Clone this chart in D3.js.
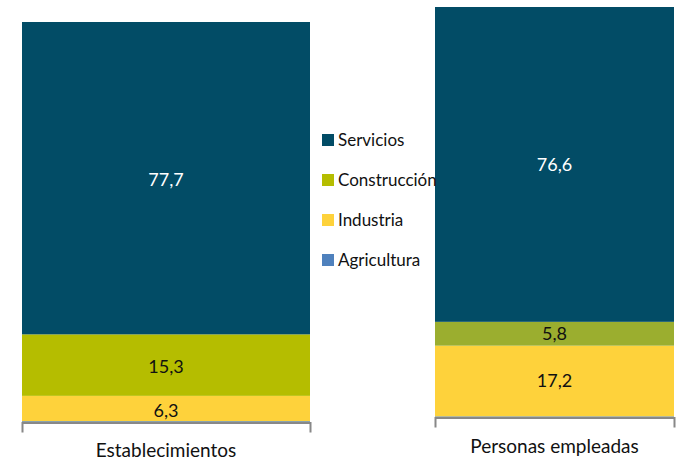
<!DOCTYPE html>
<html><head><meta charset="utf-8">
<script src="https://cdn.jsdelivr.net/npm/d3@7"></script>
<style>body{margin:0;background:#fff}svg{display:block;font-family:Lato,"Open Sans",sans-serif}</style>
</head><body><svg id="c" width="680" height="462"></svg>
<script>
const categories = ["Establecimientos", "Personas empleadas"];
const seriesNames = ["Servicios", "Construcción", "Industria", "Agricultura"];
const servicios = [77.7, 76.6];
const construccion = [15.3, 5.8];
const industria = [6.3, 17.2];
const agricultura = [0.7, 0.4];

const colors = {Servicios:"#024c66", "Construcción":"#b5bd00", Industria:"#fed23b", Agricultura:"#4f81bd"};
const construccionRight = "#9bae2f";

const svg = d3.select("#c");
const panels = [
  {x0:22, x1:310, top:22, base:424, axisY:422.5, labOff:2, pad:21},
  {x0:435, x1:674, top:7, base:418, axisY:417.5, labOff:0, pad:22}
];
const valuesBy = {Servicios:servicios, "Construcción":construccion, Industria:industria, Agricultura:agricultura};
const stackOrder = ["Agricultura","Industria","Construcción","Servicios"];

categories.forEach((cat,i)=>{
  const p = panels[i];
  const row = {}; stackOrder.forEach(s=>row[s]=valuesBy[s][i]);
  const stacked = d3.stack().keys(stackOrder)([row]);
  const y = d3.scaleLinear().domain([0,100]).range([p.base,p.top]);
  const x = d3.scaleBand().domain([cat]).range([p.x0,p.x1]).padding(0);
  const g = svg.append("g");
  stacked.forEach(layer=>{
    const d = layer[0];
    const col = (layer.key==="Construcción" && i===1) ? construccionRight : colors[layer.key];
    g.append("rect").attr("x",x(cat)).attr("width",x.bandwidth())
      .attr("y",y(d[1])).attr("height",y(d[0])-y(d[1])).attr("fill",col);
    if(layer.key!=="Agricultura"){
      g.append("text").attr("x",x(cat)+x.bandwidth()/2).attr("y",(y(d[0])+y(d[1]))/2 + p.labOff)
        .attr("dy","0.35em").attr("text-anchor","middle").attr("font-size",18)
        .attr("fill", layer.key==="Servicios" ? "#fff" : "#111")
        .text(d3.format(".1f")(d[1]-d[0]).replace(".",","));
    }
  });
  const ax = svg.append("g").attr("transform",`translate(0,${p.axisY})`)
    .call(d3.axisBottom(x).tickSizeInner(0).tickSizeOuter(10).tickPadding(p.pad));
  ax.select(".domain").attr("stroke","#888").attr("stroke-width",2);
  ax.selectAll("text").attr("font-size",19).attr("fill","#111").attr("font-family","Lato, sans-serif");
});

// legend
const lg = svg.append("g");
lg.append("rect").attr("x",310).attr("y",120).attr("width",125).attr("height",160).attr("fill","#fff");
seriesNames.forEach((s,k)=>{
  const yy = 134 + k*40;
  lg.append("rect").attr("x",322).attr("y",yy).attr("width",12).attr("height",12).attr("fill",colors[s]);
  lg.append("text").attr("x",338).attr("y",yy+6).attr("dy","0.35em").attr("font-size",17).attr("fill","#111").text(s);
});
</script></body></html>
